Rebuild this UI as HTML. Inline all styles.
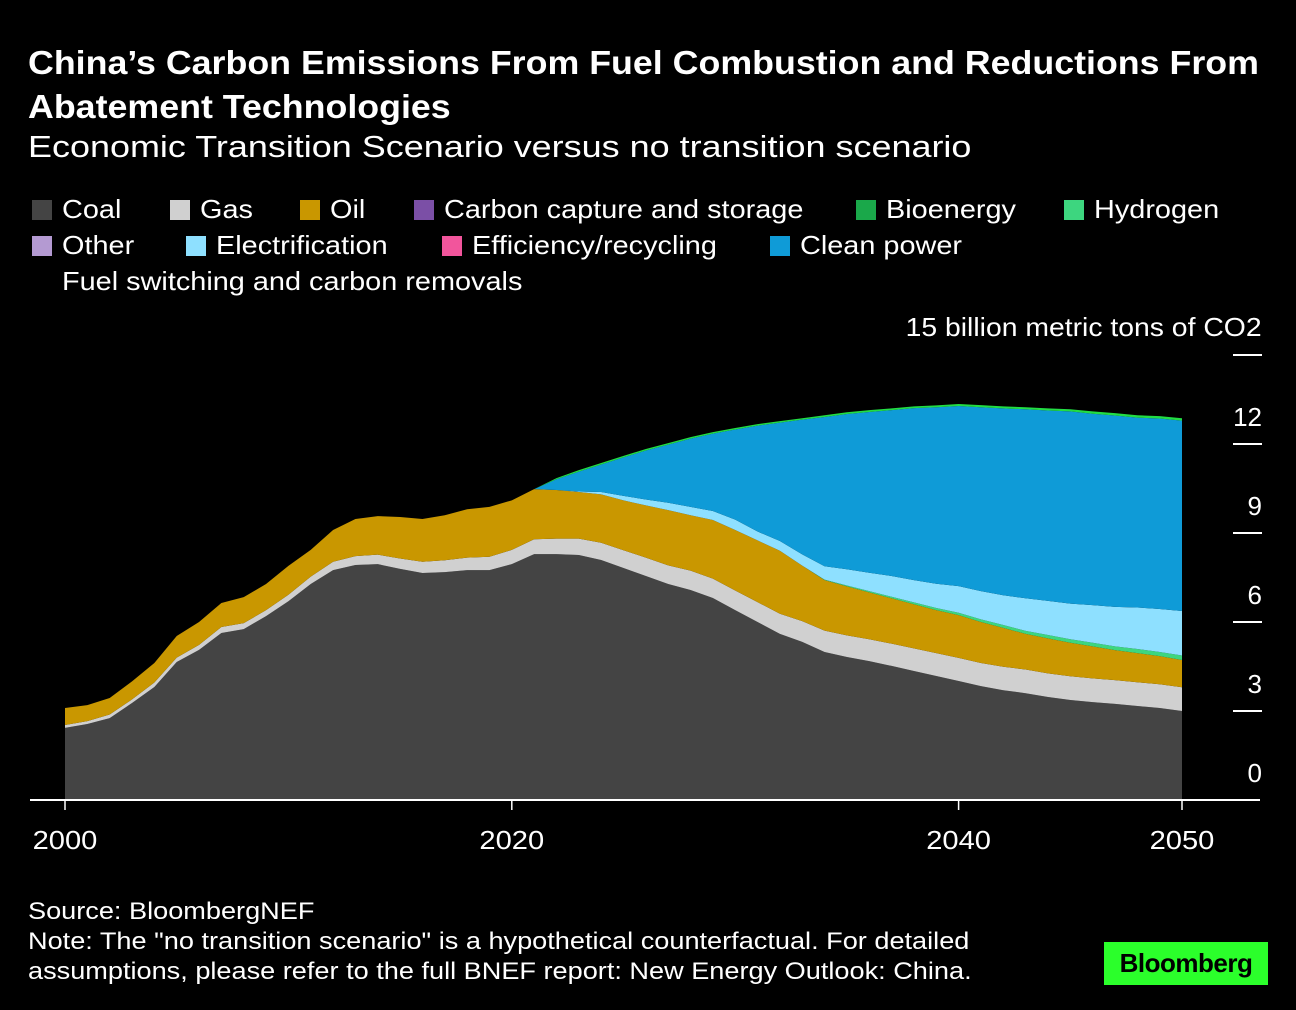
<!DOCTYPE html>
<html><head><meta charset="utf-8">
<style>
body{margin:0;background:#000;width:1296px;height:1010px;overflow:hidden;font-family:"Liberation Sans",sans-serif;color:#fff;position:relative}
.t{position:absolute;white-space:nowrap;transform-origin:0 0}
.leg{position:absolute;font-size:26px;white-space:nowrap}
.sw{display:inline-block;width:20px;height:20px;vertical-align:-2px;margin-right:10px}
.lt{display:inline-block;transform:scaleX(1.11);transform-origin:0 0}
</style></head><body>
<div class="t" style="left:28px;top:41px;font-size:33px;font-weight:bold;line-height:44px;transform:scaleX(1.084)">China’s Carbon Emissions From Fuel Combustion and Reductions From<br>Abatement Technologies</div>
<div class="t" style="left:28px;top:129px;font-size:31px;transform:scaleX(1.16)">Economic Transition Scenario versus no transition scenario</div>
<div>
<div class="leg" style="left:32px;top:194px"><span class="sw" style="background:#444"></span><span class="lt">Coal</span></div>
<div class="leg" style="left:170px;top:194px"><span class="sw" style="background:#d0d0d0"></span><span class="lt">Gas</span></div>
<div class="leg" style="left:300px;top:194px"><span class="sw" style="background:#c99700"></span><span class="lt">Oil</span></div>
<div class="leg" style="left:414px;top:194px"><span class="sw" style="background:#7b4fa6"></span><span class="lt">Carbon capture and storage</span></div>
<div class="leg" style="left:856px;top:194px"><span class="sw" style="background:#1aa84a"></span><span class="lt">Bioenergy</span></div>
<div class="leg" style="left:1064px;top:194px"><span class="sw" style="background:#3dd67f"></span><span class="lt">Hydrogen</span></div>
<div class="leg" style="left:32px;top:230px"><span class="sw" style="background:#b49ad2"></span><span class="lt">Other</span></div>
<div class="leg" style="left:186px;top:230px"><span class="sw" style="background:#8ee0ff"></span><span class="lt">Electrification</span></div>
<div class="leg" style="left:442px;top:230px"><span class="sw" style="background:#f2559c"></span><span class="lt">Efficiency/recycling</span></div>
<div class="leg" style="left:770px;top:230px"><span class="sw" style="background:#0f9bd7"></span><span class="lt">Clean power</span></div>
<div class="leg" style="left:32px;top:266px"><span class="sw" style="background:#000"></span><span class="lt">Fuel switching and carbon removals</span></div>
</div>
<div class="t" style="right:34px;top:312px;font-size:26px;transform:scaleX(1.09);transform-origin:100% 0">15 billion metric tons of CO2</div>
<svg id="chart" width="1296" height="1010" style="position:absolute;left:0;top:0"></svg>
<div class="t" style="left:28px;top:897px;font-size:24px;line-height:30px;transform:scaleX(1.13)">Source: BloombergNEF<br>Note: The "no transition scenario" is a hypothetical counterfactual. For detailed<br>assumptions, please refer to the full BNEF report: New Energy Outlook: China.</div>
<div class="t" style="left:1104px;top:942px;width:164px;height:43px;background:#2bff2b;color:#000;font-weight:bold;font-size:26px;line-height:43px;text-align:center;letter-spacing:-0.5px">Bloomberg</div>
<script>
const years=[];for(let y=2000;y<=2050;y++)years.push(y);
const coal=[2.43,2.56,2.76,3.27,3.81,4.65,5.06,5.63,5.76,6.2,6.7,7.28,7.75,7.92,7.95,7.79,7.65,7.68,7.75,7.75,7.95,8.29,8.29,8.26,8.09,7.82,7.55,7.28,7.08,6.81,6.4,6.0,5.6,5.33,4.99,4.82,4.68,4.52,4.35,4.18,4.01,3.84,3.7,3.6,3.47,3.37,3.3,3.24,3.17,3.1,3.0];
const gas=[0.1,0.1,0.12,0.12,0.15,0.15,0.17,0.2,0.2,0.2,0.22,0.25,0.28,0.3,0.32,0.35,0.38,0.4,0.42,0.45,0.48,0.5,0.52,0.55,0.58,0.6,0.62,0.63,0.65,0.65,0.66,0.67,0.68,0.7,0.72,0.73,0.74,0.75,0.76,0.77,0.78,0.78,0.79,0.8,0.8,0.8,0.8,0.8,0.8,0.8,0.8];
const oil=[0.57,0.54,0.56,0.61,0.66,0.73,0.77,0.81,0.88,0.88,0.97,0.9,1.07,1.25,1.3,1.4,1.44,1.52,1.63,1.68,1.67,1.69,1.64,1.57,1.63,1.68,1.76,1.86,1.87,1.98,2.04,2.08,2.12,1.87,1.7,1.65,1.58,1.53,1.49,1.45,1.44,1.38,1.31,1.2,1.18,1.13,1.08,1.01,0.98,0.95,0.92];
const hydrogen=[0,0,0,0,0,0,0,0,0,0,0,0,0,0,0,0,0,0,0,0,0,0,0,0,0,0,0,0,0,0,0,0,0,0,0.02,0.03,0.04,0.05,0.06,0.07,0.08,0.09,0.1,0.1,0.11,0.12,0.12,0.13,0.14,0.14,0.15];
const electrification=[0,0,0,0,0,0,0,0,0,0,0,0,0,0,0,0,0,0,0,0,0,0,0,0.02,0.08,0.15,0.2,0.25,0.28,0.3,0.35,0.3,0.33,0.38,0.45,0.55,0.62,0.7,0.75,0.82,0.9,0.95,1.0,1.1,1.15,1.2,1.27,1.33,1.4,1.45,1.5];
const cleanPower=[0,0,0,0,0,0,0,0,0,0,0,0,0,0,0,0,0,0,0,0,0,0,0.36,0.67,0.93,1.3,1.65,1.96,2.3,2.61,3.04,3.57,3.99,4.54,5.03,5.23,5.42,5.59,5.8,5.95,6.07,6.2,6.3,6.37,6.42,6.48,6.45,6.45,6.4,6.42,6.42];
const bioenergy=[0,0,0,0,0,0,0,0,0,0,0,0,0,0,0,0,0,0,0,0,0,0,0.04,0.05,0.05,0.05,0.05,0.05,0.05,0.05,0.05,0.05,0.05,0.05,0.06,0.06,0.06,0.06,0.06,0.06,0.07,0.07,0.07,0.07,0.07,0.07,0.08,0.08,0.08,0.08,0.08];
const yTicks=[0,3,6,9,12];
const xTicks=[2000,2020,2040,2050];
const X=y=>65+(y-2000)*(1182-65)/50;
const Y=v=>800-v*(800-355)/15;
const svg=document.getElementById('chart');const NS='http://www.w3.org/2000/svg';
const layers=[['coal',coal,'#444444'],['gas',gas,'#d0d0d0'],['oil',oil,'#c99700'],['hydrogen',hydrogen,'#3dd67f'],['electrification',electrification,'#8ee0ff'],['clean-power',cleanPower,'#0f9bd7'],['bioenergy',bioenergy,'#22dd44']];
let base=years.map(()=>0);
layers.forEach(([name,vals,col])=>{
  const top=base.map((b,i)=>b+vals[i]);
  let d='M'+years.map((y,i)=>X(y)+','+Y(top[i])).join('L');
  for(let i=years.length-1;i>=0;i--)d+='L'+X(years[i])+','+Y(base[i]);
  const p=document.createElementNS(NS,'path');
  p.setAttribute('d',d+'Z');p.setAttribute('fill',col);
  
  
  svg.appendChild(p);base=top;
});
const bl=document.createElementNS(NS,'line');
bl.setAttribute('x1',30);bl.setAttribute('x2',1260);bl.setAttribute('y1',800);bl.setAttribute('y2',800);bl.setAttribute('stroke','#fff');bl.setAttribute('stroke-width',2);


svg.appendChild(bl);
xTicks.forEach(t=>{
  const l=document.createElementNS(NS,'line');
  l.setAttribute('x1',X(t));l.setAttribute('x2',X(t));l.setAttribute('y1',800);l.setAttribute('y2',810);l.setAttribute('stroke','#fff');l.setAttribute('stroke-width',1.5);
  
  
  svg.appendChild(l);
  const tx=document.createElementNS(NS,'text');
  tx.setAttribute('x',X(t));tx.setAttribute('y',849);tx.setAttribute('fill','#fff');tx.setAttribute('font-size',26);tx.setAttribute('text-anchor','middle');
  tx.setAttribute('transform','translate('+X(t)+',0) scale(1.12,1) translate('+(-X(t))+',0)');
  tx.textContent=t;
  
  
  svg.appendChild(tx);
});
yTicks.concat([15]).forEach(t=>{
  if(t>0){const l=document.createElementNS(NS,'line');
  l.setAttribute('x1',1233);l.setAttribute('x2',1262);l.setAttribute('y1',Y(t));l.setAttribute('y2',Y(t));l.setAttribute('stroke','#fff');l.setAttribute('stroke-width',2);
  
  
  svg.appendChild(l);}
  if(t===15)return;
  const tx=document.createElementNS(NS,'text');
  tx.setAttribute('x',1262);tx.setAttribute('y',Y(t)-18);tx.setAttribute('fill','#fff');tx.setAttribute('font-size',26);tx.setAttribute('text-anchor','end');
  tx.textContent=t;
  
  
  svg.appendChild(tx);
});
</script>
</body></html>
